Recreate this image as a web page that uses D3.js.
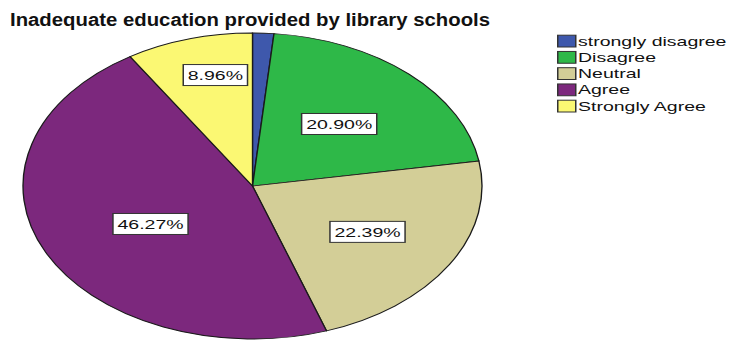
<!DOCTYPE html>
<html>
<head>
<meta charset="utf-8">
<script src="https://cdn.jsdelivr.net/npm/d3@7"></script>
<style>
  body { margin: 0; background: #fff; }
  text { font-family: "Liberation Sans", Arial, sans-serif; }
</style>
</head>
<body>
<div id="chart"></div>
<script>
const title = "Inadequate education provided by library schools";
const categories = ["strongly disagree", "Disagree", "Neutral", "Agree", "Strongly Agree"];
const counts = [1, 14, 15, 31, 6];
const percentLabels = [null, "20.90%", "22.39%", "46.27%", "8.96%"];
const colors = ["#3E58AC", "#2EB848", "#D3CE97", "#7C287D", "#FBF873"];

// label placement per slice: distance as fraction of radius, and where along the slice's angle
const labelRadius = [0, 0.554, 0.584, 0.509, 0.743];
const labelAlong = [0.5, 0.5, 0.5, 0.478, 0.61];

const width = 733, height = 341;
const stretch = 1.5; // the whole chart is drawn horizontally stretched

const svg = d3.select("#chart")
  .append("svg")
  .attr("width", width)
  .attr("height", height);

// title
svg.append("text")
  .attr("x", 10)
  .attr("y", 25.5)
  .attr("textLength", 480)
  .attr("lengthAdjust", "spacingAndGlyphs")
  .style("font-size", "18px")
  .style("font-weight", "bold")
  .style("fill", "#111")
  .text(title);

const g = svg.append("g")
  .attr("transform", `scale(${stretch},1)`);

// pie
const radius = 153;
const pie = d3.pie().sort(null).value((d) => d);
const arcGen = d3.arc().innerRadius(0).outerRadius(radius);

const pieG = g.append("g")
  .attr("transform", `translate(${252.5 / stretch},186)`);

const arcs = pie(counts);

pieG.selectAll("path.slice")
  .data(arcs)
  .enter()
  .append("path")
  .attr("class", "slice")
  .attr("d", arcGen)
  .style("fill", (d, i) => colors[i])
  .style("stroke", "#1a1a1a")
  .style("stroke-width", 0.9);

// labels
const labels = pieG.selectAll("g.lbl")
  .data(arcs.filter((d, i) => percentLabels[i]))
  .enter()
  .append("g")
  .attr("class", "lbl")
  .attr("transform", (d) => {
    const r = radius * labelRadius[d.index];
    const a = d.startAngle + (d.endAngle - d.startAngle) * labelAlong[d.index];
    return `translate(${r * Math.sin(a)},${-r * Math.cos(a)})`;
  });

const boxes = labels.append("rect")
  .style("fill", "#fff")
  .style("stroke", "#333")
  .style("stroke-width", 1);

labels.append("text")
  .attr("text-anchor", "middle")
  .attr("dy", "0.36em")
  .style("font-size", "13px")
  .style("fill", "#111")
  .text((d) => percentLabels[d.index])
  .each(function () {
    const w = this.getComputedTextLength() + 6;
    d3.select(this.parentNode).select("rect")
      .attr("x", -w / 2)
      .attr("y", -10.5)
      .attr("width", w)
      .attr("height", 21);
  });

// legend
const y = d3.scalePoint()
  .domain(categories)
  .range([41, 106]);

const legend = g.append("g")
  .attr("transform", `translate(${557 / stretch},0)`);

const items = legend.selectAll("g")
  .data(categories)
  .enter()
  .append("g")
  .attr("transform", (d) => `translate(0,${y(d)})`);

items.append("rect")
  .attr("x", 0.5)
  .attr("y", -5.8)
  .attr("width", 12)
  .attr("height", 11.8)
  .style("fill", (d, i) => colors[i])
  .style("stroke", "#333")
  .style("stroke-width", 1);

items.append("text")
  .attr("x", 14)
  .attr("dy", "0.36em")
  .style("font-size", "13px")
  .style("fill", "#111")
  .text((d) => d);
</script>
</body>
</html>
